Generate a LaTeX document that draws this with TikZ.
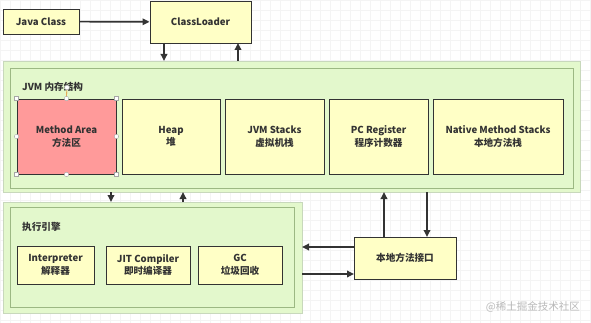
\documentclass[tikz,border=0pt]{standalone}
\usepackage{fontspec}
\setmainfont{Noto Sans CJK SC}
\usetikzlibrary{arrows.meta}
\definecolor{ylw}{HTML}{FFFFC6}
\definecolor{grn}{HTML}{E3F8CC}
\definecolor{grnb}{HTML}{9CB883}
\definecolor{outb}{HTML}{C8D8BC}
\definecolor{redf}{HTML}{FF9A9A}
\definecolor{ink}{HTML}{333333}
\tikzset{
  box/.style={draw=ink, line width=0.9pt, fill=ylw, align=center, inner sep=0pt,
    font=\fontsize{9.6}{12.5}\selectfont\bfseries, text=ink},
  outerbox/.style={draw=outb, line width=0.9pt, fill=grn},
  innerbox/.style={draw=grnb, line width=0.8pt, fill=grn},
  conn/.style={draw=ink, line width=1.7pt, -{Triangle[length=7pt,width=6.5pt]}},
  lbl/.style={anchor=west, font=\fontsize{9.6}{11}\selectfont\bfseries, text=ink, inner sep=0pt},
  handle/.style={draw=gray!70, fill=white, line width=0.4pt}
}
\begin{document}
\begin{tikzpicture}[x=1pt,y=-1pt]
\useasboundingbox (0,0) rectangle (591,323);
\fill[white] (0,0) rectangle (591,323);
\draw[gray!9, line width=0.4pt] (0,0) grid[step=10pt] (591,323);

% top boxes
\node[box, minimum width=76pt, minimum height=25pt] (java) at (41,21.5) {Java Class};
\node[box, minimum width=101pt, minimum height=42pt] (cl) at (200.5,22) {ClassLoader};

% JVM area
\draw[outerbox] (3,61) rectangle (580,192);
\draw[innerbox] (10,68) rectangle (573,188);
\node[lbl] (jvmlbl) at (22,87) {JVM 内存结构};

\node[box, fill=redf, minimum width=99pt, minimum height=75pt] (ma) at (66.5,136.5) {Method Area\\方法区};
\node[box, minimum width=98pt, minimum height=75pt] (heap) at (171,136.5) {Heap\\堆};
\node[box, minimum width=99pt, minimum height=75pt] (stk) at (274.5,136.5) {JVM Stacks\\虚拟机栈};
\node[box, minimum width=99pt, minimum height=75pt] (pc) at (378.5,136.5) {PC Register\\程序计数器};
\node[box, minimum width=130pt, minimum height=75pt] (nms) at (498,136.5) {Native Method Stacks\\本地方法栈};

% selection handles on Method Area
\coordinate (rot) at (67,87.5);
\draw[orange!60!brown, line width=0.6pt] (ma.north) -- (rot);
\foreach \p in {north west,north east,south west,south east}
  \draw[handle] ([xshift=-2pt,yshift=-2pt]ma.\p) rectangle ([xshift=2pt,yshift=2pt]ma.\p);
\foreach \p in {north,south,east,west}
  \draw[handle] (ma.\p) circle (2.2pt);
\draw[handle] (rot) circle (2.4pt);

% execution engine
\draw[outerbox] (3,202) rectangle (302,313);
\draw[innerbox] (10,207) rectangle (294,307);
\node[lbl] (eelbl) at (22,227) {执行引擎};
\node[box, minimum width=77pt, minimum height=38pt] (interp) at (55.5,265) {Interpreter\\解释器};
\node[box, minimum width=84pt, minimum height=38pt] (jit) at (148,265) {JIT Compiler\\即时编译器};
\node[box, minimum width=84pt, minimum height=38pt] (gc) at (240,265) {GC\\垃圾回收};

% native interface
\node[box, minimum width=102pt, minimum height=42pt] (ni) at (405,258) {本地方法接口};

% coordinates for connector ends
\coordinate (cl1) at (164,43);   \coordinate (j1) at (164,61);
\coordinate (cl2) at (238,43);   \coordinate (j2) at (238,61);
\coordinate (jb1) at (111,192);  \coordinate (e1) at (111,202);
\coordinate (jb2) at (183,192);  \coordinate (e2) at (183,202);
\coordinate (jb3) at (384,192);  \coordinate (n3) at (384,237);
\coordinate (jb4) at (427,192);  \coordinate (n4) at (427,237);
\coordinate (er1) at (302,247);  \coordinate (nl1) at (354,247);
\coordinate (er2) at (302,274);  \coordinate (nl2) at (354,274);

\draw[conn] (java) -- (cl);
\draw[conn] (cl1) -- (j1);
\draw[conn] (j2) -- (cl2);
\draw[conn] (jb1) -- (e1);
\draw[conn] (e2) -- (jb2);
\draw[conn] (n3) -- (jb3);
\draw[conn] (jb4) -- (n4);
\draw[conn] (nl1) -- (er1);
\draw[conn] (er2) -- (nl2);

\node[anchor=east, font=\fontsize{10.5}{12}\selectfont, text=gray!55, inner sep=0pt] (wm) at (580,307) {@稀土掘金技术社区};
\end{tikzpicture}
\end{document}
